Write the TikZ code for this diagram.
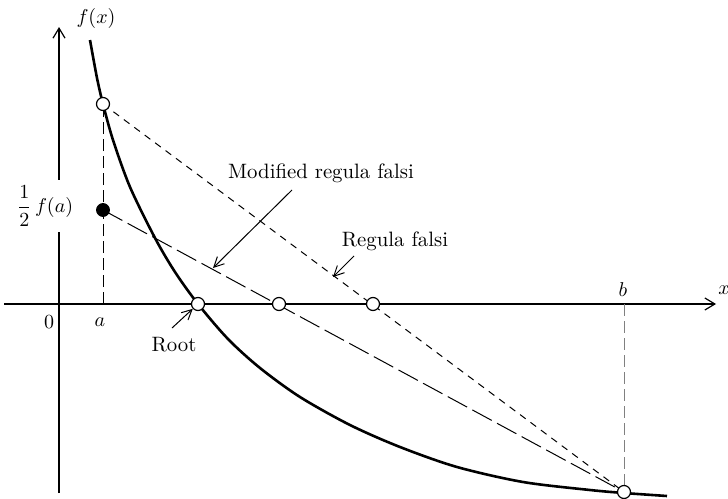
\documentclass[tikz,border=0pt]{standalone}
\usetikzlibrary{arrows.meta}
\begin{document}
\begin{tikzpicture}[x=0.5pt,y=-0.5pt,
  axis/.style={line width=0.6pt,-{Straight Barb[length=5pt,width=6pt]}},
  lbl/.style={font=\fontsize{10.4}{12.5}\selectfont,inner sep=0pt},
  guide/.style={line width=0.5pt,dash pattern=on 6pt off 2.5pt},
  rfline/.style={line width=0.5pt,dash pattern=on 3.5pt off 3pt},
  mrfline/.style={line width=0.5pt,dash pattern=on 11pt off 3pt},
  curve/.style={line width=1.3pt},
  opendot/.style={circle,draw,fill=white,line width=0.6pt,minimum size=6.5pt,inner sep=0pt},
  fulldot/.style={circle,draw,fill=black,minimum size=6.5pt,inner sep=0pt},
  pointer/.style={line width=0.5pt,-{Straight Barb[length=5pt,width=5pt]}}
]
\useasboundingbox (0,0) rectangle (728,498);
% axes
\coordinate (ybot) at (59,493);
\coordinate (ytop) at (59,27);
\coordinate (xl) at (4,304);
\coordinate (xr) at (716,304);
\draw[axis] (ybot) -- (ytop);
\draw[axis] (xl) -- (xr);
\node[lbl] (fx) at (96,19) {$f(x)$};
\node[lbl,anchor=west] (xlab) at (718,290) {$x$};
\node[lbl] (zero) at (49,322) {$0$};
\node[lbl] (alab) at (100,322) {$a$};
\node[lbl] (blab) at (623,290) {$b$};
\node[lbl,fill=white,inner xsep=1pt,inner ysep=3pt] (half) at (45,206) {$\displaystyle\frac{1}{2}\,f(a)$};
% points
\coordinate (fa) at (103,104);
\coordinate (ha) at (103,210);
\coordinate (fb) at (624,492);
\coordinate (aax) at (103,304);
\coordinate (bax) at (624,304);
% guides
\draw[guide] (aax) -- (fa);
\draw[guide,gray] (bax) -- (fb);
% secants
\draw[rfline] (fa) -- (fb);
\draw[mrfline] (ha) -- (fb);
% curve
\draw[curve] plot[smooth,tension=0.5] coordinates {(90,40) (97,78) (103,104) (113,140) (130,187) (155,238) (175,272) (198,304) (228,339) (260,368) (300,397) (350,425) (400,447) (457,467) (523,482) (590,490) (624,493) (667,496)};
% dots
\node[opendot] (pa) at (fa) {};
\node[fulldot] (ph) at (ha) {};
\node[opendot] (pb) at (fb) {};
\node[opendot] (root) at (198,304) {};
\node[opendot] (mr) at (279,304) {};
\node[opendot] (rf) at (373,304) {};
% labels with pointers
\node[lbl] (rootlab) at (174,345) {Root};
\coordinate (rootarr) at (172,328);
\draw[pointer] (rootarr) -- (root);
\node[lbl] (mlab) at (321,173) {Modified regula falsi};
\coordinate (ms) at (292,190);
\coordinate (me) at (213,268);
\draw[pointer] (ms) -- (me);
\node[lbl] (rlab) at (395,241) {Regula falsi};
\coordinate (rs) at (354,256);
\coordinate (re) at (333,277);
\draw[pointer] (rs) -- (re);
\end{tikzpicture}
\end{document}
